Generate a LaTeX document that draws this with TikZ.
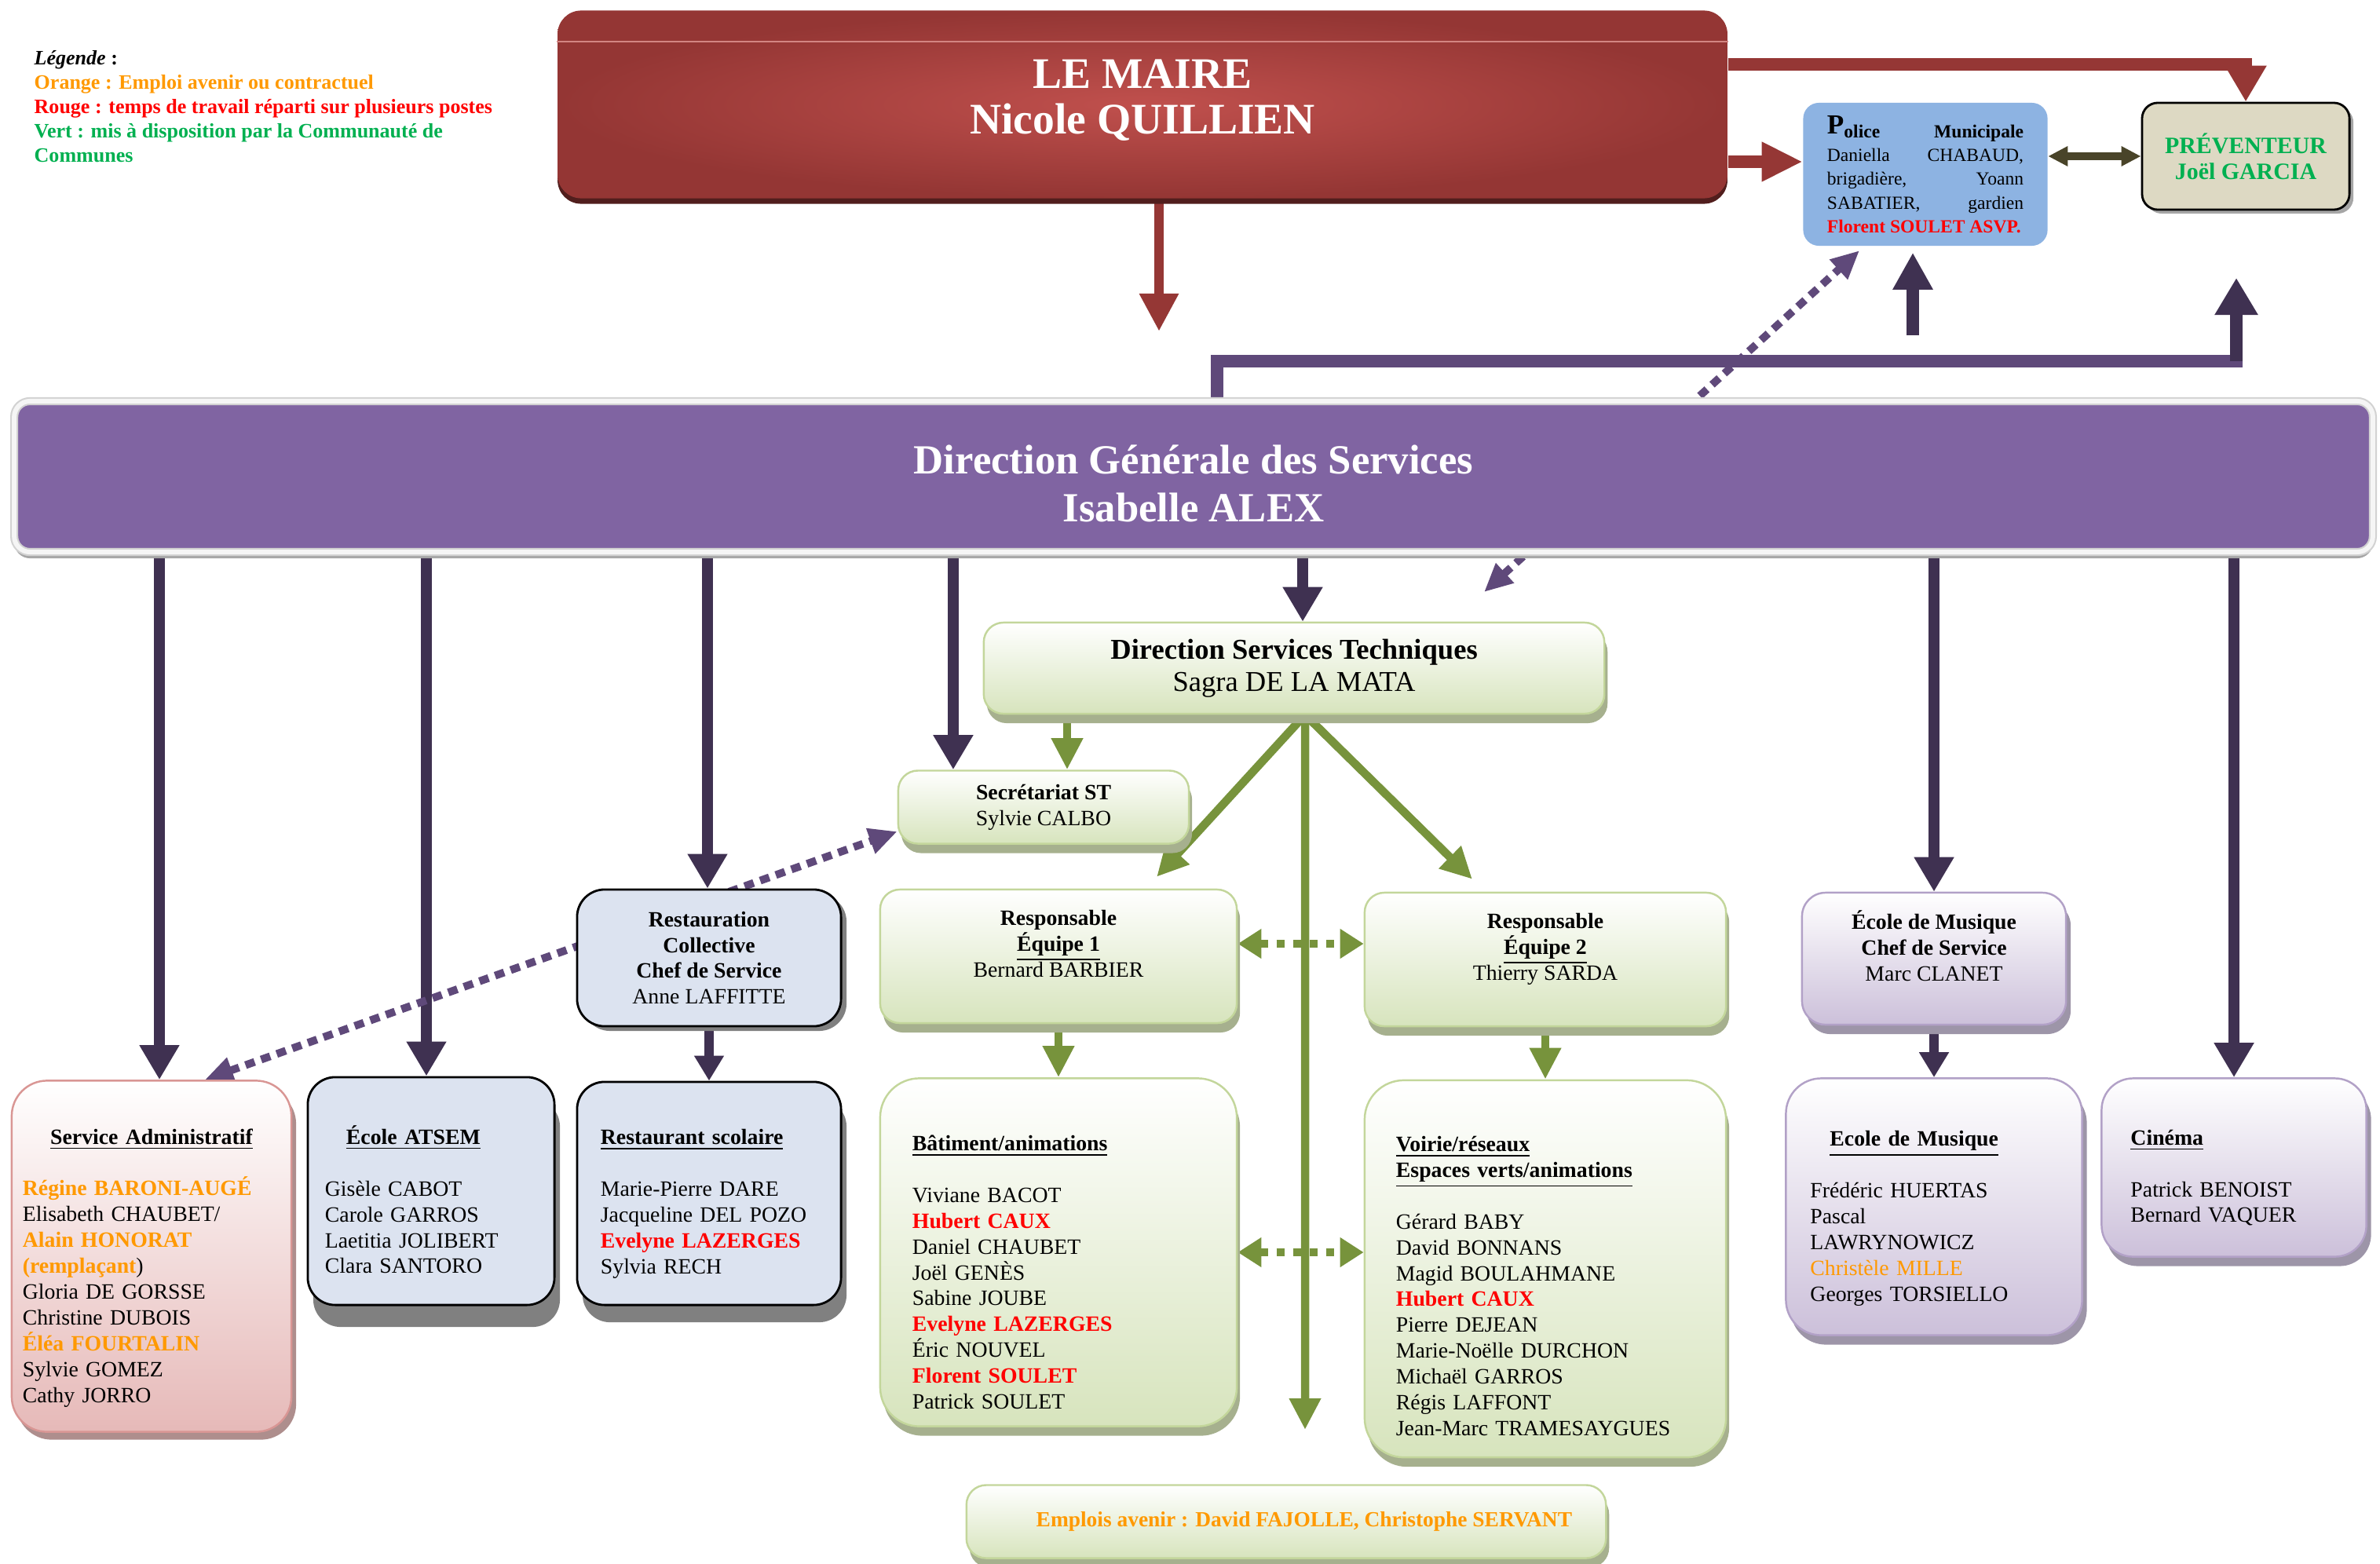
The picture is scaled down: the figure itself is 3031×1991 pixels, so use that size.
\documentclass[tikz,border=0pt]{standalone}
\usepackage{fontspec}
\setmainfont{Liberation Serif}
\usetikzlibrary{arrows.meta,shadows,backgrounds}

% couleurs
\definecolor{rougemaire}{HTML}{943634}
\definecolor{rougeclair}{HTML}{C0504D}
\definecolor{rougefl}{HTML}{953735}
\definecolor{bleupolice}{HTML}{8DB3E2}
\definecolor{beigeprev}{HTML}{DDD9C3}
\definecolor{olivefl}{HTML}{494429}
\definecolor{violetdgs}{HTML}{8064A2}
\definecolor{violetfonce}{HTML}{3F3151}
\definecolor{violetmoyen}{HTML}{5F497A}
\definecolor{vertligne}{HTML}{77933C}
\definecolor{vertbas}{HTML}{D7E4BD}
\definecolor{vertbord}{HTML}{C3D69B}
\definecolor{vertombre}{HTML}{A6B08E}
\definecolor{rosebas}{HTML}{E6B9B8}
\definecolor{rosebord}{HTML}{D99694}
\definecolor{roseombre}{HTML}{AE8E8D}
\definecolor{grisbleu}{HTML}{DCE3F0}
\definecolor{mauvebas}{HTML}{CCC0DA}
\definecolor{mauvebord}{HTML}{B2A1C7}
\definecolor{mauveombre}{HTML}{9D95A8}
\definecolor{orangetxt}{HTML}{FF9900}
\definecolor{rougetxt}{HTML}{FF0000}
\definecolor{verttxt}{HTML}{00B050}

\newcommand{\enorange}[1]{\textcolor{orangetxt}{\textbf{#1}}}
\newcommand{\enrouge}[1]{\textcolor{rougetxt}{\textbf{#1}}}
\newcommand{\titre}[1]{\textbf{\underline{#1}}}
\newcommand{\petit}{\fontsize{7.9}{9.35}\selectfont}
\newcommand{\haut}[1]{\rule{0pt}{#1}}

\tikzset{
  boite/.style={rounded corners=0.25cm, inner sep=0pt, font=\petit},
  vertboite/.style={boite, draw=vertbord, line width=0.7pt, top color=white, bottom color=vertbas,
    drop shadow={shadow xshift=0.04cm, shadow yshift=-0.12cm, fill=vertombre, opacity=1}},
  roseboite/.style={boite, rounded corners=0.45cm, draw=rosebord, line width=0.7pt, top color=white, bottom color=rosebas,
    drop shadow={shadow xshift=0.06cm, shadow yshift=-0.1cm, fill=roseombre, opacity=1}},
  bleuboite/.style={boite, rounded corners=0.35cm, draw=black, line width=0.8pt, fill=grisbleu,
    drop shadow={shadow xshift=0.07cm, shadow yshift=#1, fill=gray, opacity=1}},
  bleuboite/.default=-0.28cm,
  mauveboite/.style={boite, rounded corners=0.3cm, draw=mauvebord, line width=0.7pt, top color=white, bottom color=mauvebas,
    drop shadow={shadow xshift=0.06cm, shadow yshift=-0.12cm, fill=mauveombre, opacity=1}},
  dgsfl/.style={draw=violetfonce, line width=4pt, -{Triangle[width=0.48cm,length=0.44cm]}},
  petitfl/.style={draw=violetfonce, line width=3.3pt, -{Triangle[width=0.36cm,length=0.32cm]}},
  flvert/.style={draw=vertligne, line width=3pt, -{Triangle[width=0.38cm,length=0.40cm]}},
  ptvert/.style={draw=vertligne, line width=3pt, dash pattern=on 3pt off 3pt,
    {Triangle[width=0.36cm,length=0.3cm]}-{Triangle[width=0.36cm,length=0.3cm]}},
  ptviolet/.style={draw=violetmoyen, line width=2.8pt, dash pattern=on 3.5pt off 2.5pt,
    {Triangle[width=0.32cm,length=0.36cm]}-{Triangle[width=0.32cm,length=0.36cm]}},
}

\begin{document}
\begin{tikzpicture}[x=0.01cm,y=-0.01cm]
\useasboundingbox (0,0) rectangle (3031,1991);

% legende
\node[anchor=north west, inner sep=0pt, align=left, font=\fontsize{7.4}{8.8}\selectfont\bfseries] (legende) at (43,64)
  {\textit{Légende} :\\
   \textcolor{orangetxt}{Orange : Emploi avenir ou contractuel}\\
   \textcolor{rougetxt}{Rouge : temps de travail réparti sur plusieurs postes}\\
   \textcolor{verttxt}{Vert : mis à disposition par la Communauté de}\\
   \textcolor{verttxt}{Communes}};

% le maire
\node[minimum width=14.89cm, minimum height=2.39cm, rounded corners=0.3cm, inner color=rougeclair, outer color=rougemaire,
  drop shadow={shadow xshift=0cm, shadow yshift=-0.07cm, fill=rougemaire!55!black, opacity=1}] (maire) at (1455,133) {};
\draw[rougeclair!70!white, line width=0.6pt] ([yshift=-0.4cm]maire.north west) -- ([yshift=-0.4cm]maire.north east);
\node[text=white, font=\fontsize{15.8}{16.5}\selectfont\bfseries, align=center] (mairetxt) at ([yshift=0.05cm]maire.center)
  {LE MAIRE\\Nicole QUILLIEN};

% police, preventeur
\node[fill=bleupolice, rounded corners=0.2cm, minimum width=3.11cm, minimum height=1.82cm, inner sep=0pt,
  font=\fontsize{6.7}{8.6}\selectfont] (police) at (2452,222)
  {\parbox{2.5cm}{\textbf{\raisebox{1.5pt}{\fontsize{10}{10}\selectfont P}olice\hfill Municipale}\\
   Daniella\hfill CHABAUD,\\
   brigadière,\hfill Yoann\\
   SABATIER,\hfill gardien\\
   \enrouge{Florent SOULET ASVP.}}};
\node[draw=black, line width=0.8pt, fill=beigeprev, rounded corners=0.2cm, minimum width=2.64cm, minimum height=1.36cm,
  font=\fontsize{8.5}{9.3}\selectfont\bfseries, text=verttxt, align=center,
  drop shadow={shadow xshift=0.05cm, shadow yshift=-0.05cm, fill=gray!70, opacity=1}] (prev) at (2860,199)
  {PRÉVENTEUR\\Joël GARCIA};

% DGS
\node[fill=violetdgs, draw=gray!35, double=gray!8, double distance=0.06cm, line width=0.6pt, rounded corners=0.2cm,
  minimum width=30.02cm, minimum height=1.92cm, text=white, align=center,
  font=\fontsize{15}{17.6}\selectfont\bfseries,
  drop shadow={shadow xshift=0cm, shadow yshift=-0.08cm, fill=gray!70, opacity=1}] (dgs) at (1520,607)
  {\haut{15.5pt}Direction Générale des Services\\Isabelle ALEX};

% services techniques
\node[vertboite, minimum width=7.90cm, minimum height=1.16cm, align=center, font=\fontsize{10.4}{11.7}\selectfont] (dst) at (1648,851)
  {\textbf{Direction Services Techniques}\\Sagra DE LA MATA};
\node[vertboite, minimum width=3.70cm, minimum height=0.93cm, align=center] (secr) at (1329,1028)
  {\textbf{Secrétariat ST}\\Sylvie CALBO};
\node[vertboite, minimum width=4.54cm, minimum height=1.70cm, align=center] (eq1) at (1348,1218)
  {\textbf{Responsable}\\\titre{Équipe 1}\\Bernard BARBIER\\\mbox{}};
\node[vertboite, minimum width=4.60cm, minimum height=1.70cm, align=center] (eq2) at (1968,1222)
  {\textbf{Responsable}\\\titre{Équipe 2}\\Thierry SARDA\\\mbox{}};
\node[vertboite, rounded corners=0.5cm, minimum width=4.54cm, minimum height=4.43cm, text width=3.72cm, align=left] (bat) at (1348,1595)
  {\haut{20pt}\titre{Bâtiment/animations}\\[9.35pt]
   Viviane BACOT\\ \enrouge{Hubert CAUX}\\ Daniel CHAUBET\\ Joël GENÈS\\ Sabine JOUBE\\
   \enrouge{Evelyne LAZERGES}\\ Éric NOUVEL\\ \enrouge{Florent SOULET}\\ Patrick SOULET};
\node[vertboite, rounded corners=0.5cm, minimum width=4.60cm, minimum height=4.80cm, text width=3.80cm, align=left] (voi) at (1968,1616)
  {\haut{18pt}\titre{Voirie/réseaux}\\ \titre{Espaces verts/animations}\\[9.35pt]
   Gérard BABY\\ David BONNANS\\ Magid BOULAHMANE\\ \enrouge{Hubert CAUX}\\ Pierre DEJEAN\\
   Marie-Noëlle DURCHON\\ Michaël GARROS\\ Régis LAFFONT\\ Jean-Marc TRAMESAYGUES};
\node[vertboite, minimum width=8.14cm, minimum height=0.93cm, font=\fontsize{7.8}{9}\selectfont] (emp) at (1638,1938)
  {\hspace*{13pt}\enorange{Emplois avenir : David FAJOLLE, Christophe SERVANT}};

% services a gauche
\node[roseboite, minimum width=3.56cm, minimum height=4.47cm, text width=3.28cm, align=left] (admin) at (193,1600)
  {\haut{14pt}\makebox[3.28cm]{\titre{Service Administratif}}\\[9.35pt]
   \enorange{Régine BARONI-AUGÉ}\\ Elisabeth CHAUBET/\\ \enorange{Alain HONORAT}\\ \enorange{(remplaçant})\\
   Gloria DE GORSSE\\ Christine DUBOIS\\ \enorange{Éléa FOURTALIN}\\ Sylvie GOMEZ\\ Cathy JORRO};
\node[bleuboite, minimum width=3.14cm, minimum height=2.90cm, text width=2.70cm, align=left] (atsem) at (549,1517)
  {\haut{13pt}\hspace*{0.27cm}\titre{École ATSEM}\\[9.35pt]
   Gisèle CABOT\\ Carole GARROS\\ Laetitia JOLIBERT\\ Clara SANTORO};
\node[bleuboite=-0.06cm, minimum width=3.36cm, minimum height=1.74cm, align=center] (rcoll) at (903,1220)
  {\textbf{Restauration}\\\textbf{Collective}\\\textbf{Chef de Service}\\Anne LAFFITTE};
\node[bleuboite=-0.22cm, minimum width=3.36cm, minimum height=2.84cm, text width=2.76cm, align=left] (rscol) at (903,1520)
  {\haut{13pt}\titre{Restaurant scolaire}\\[9.35pt]
   Marie-Pierre DARE\\ Jacqueline DEL POZO\\ \enrouge{Evelyne LAZERGES}\\ Sylvia RECH};

% services a droite
\node[mauveboite, minimum width=3.36cm, minimum height=1.68cm, align=center] (emc) at (2463,1221)
  {\textbf{École de Musique}\\\textbf{Chef de Service}\\Marc CLANET\\\mbox{}};
\node[mauveboite, rounded corners=0.45cm, minimum width=3.77cm, minimum height=3.27cm, text width=3.15cm, align=left] (emu) at (2463,1537)
  {\haut{14pt}\hspace*{0.25cm}\titre{Ecole de Musique}\\[9.35pt]
   Frédéric HUERTAS\\ Pascal\\ LAWRYNOWICZ\\ \textcolor{orangetxt}{Christèle MILLE}\\ Georges TORSIELLO};
\node[mauveboite, rounded corners=0.4cm, minimum width=3.37cm, minimum height=2.27cm, text width=2.63cm, align=left] (cine) at (2845,1487)
  {\haut{13pt}\titre{Cinéma}\\[9.35pt]
   Patrick BENOIST\\ Bernard VAQUER};

% fleches
\begin{scope}[on background layer]
% du maire
\coordinate (mbas) at (1476,422);
\draw[rougefl, line width=3.4pt, -{Triangle[width=0.47cm,length=0.48cm]}] (maire.south -| mbas) -- (mbas);
\coordinate (pol) at ([yshift=0.16cm]police.west);
\draw[rougefl, line width=4.8pt, -{Triangle[width=0.47cm,length=0.52cm]}] (maire.east |- pol) -- (pol);
\draw[rougefl, line width=4.6pt, -{Triangle[width=0.50cm,length=0.46cm]}] ([yshift=0.51cm]maire.east) -| (prev.north);
\draw[olivefl, line width=2.8pt, {Triangle[width=0.24cm,length=0.25cm]}-{Triangle[width=0.24cm,length=0.25cm]}]
  (police.east |- prev.west) -- (prev.west);
% vers le haut
\coordinate (dg1) at (1550,460);
\coordinate (dg2) at (2848,460);
\coordinate (cprev) at (2848,354);
\draw[violetmoyen, line width=4.6pt, line cap=rect] (dgs.north -| dg1) -- (dg1) -- (dg2);
\draw[violetfonce, line width=4.6pt, -{Triangle[width=0.52cm,length=0.47cm]}] (dg2) -- (cprev);
\coordinate (pbas) at (2436,427);
\draw[violetfonce, line width=4.3pt, -{Triangle[width=0.48cm,length=0.47cm]}, shorten >=0.08cm] (pbas) -- (pbas |- police.south);
\coordinate (ptdst) at (1890,754);
\draw[ptviolet, shorten >=0.08cm] (ptdst) -- ([xshift=-0.78cm]police.south);
% de la DGS
\foreach \cible/\dx in {admin/0.10, atsem/-0.06, rcoll/-0.02, secr/-1.15, dst/0.11, emc/0, cine/0}{
  \coordinate (c) at ([xshift=\dx cm]\cible.north);
  \draw[dgsfl] (dgs.south -| c) -- (c);
}
\draw[petitfl] (rcoll.south) -- (rscol.north);
\draw[petitfl] (emc.south) -- (emu.north);
\draw[ptviolet] ([xshift=0.68cm]admin.north) -- ([yshift=-0.31cm]secr.west);
% services techniques
\coordinate (dstb) at ([xshift=0.14cm]dst.south);
\coordinate (gsecr) at ([xshift=0.3cm]secr.north);
\draw[flvert] (dst.south -| gsecr) -- (gsecr);
\coordinate (geq1) at ([xshift=1.25cm,yshift=0.15cm]eq1.north);
\coordinate (geq2) at ([xshift=-0.93cm,yshift=0.16cm]eq2.north);
\coordinate (gbas) at (1662,1821);
\draw[flvert] (dstb) -- (geq1);
\draw[flvert] (dstb) -- (geq2);
\draw[flvert] (dstb) -- (gbas);
\draw[flvert] (eq1.south) -- (bat.north);
\draw[flvert] (eq2.south) -- (voi.north);
\coordinate (v1) at ([yshift=0.16cm]eq1.east);
\draw[ptvert] (v1) -- (v1 -| eq2.west);
\draw[ptvert] (bat.east) -- (bat.east -| voi.west);
\end{scope}
\end{tikzpicture}
\end{document}
